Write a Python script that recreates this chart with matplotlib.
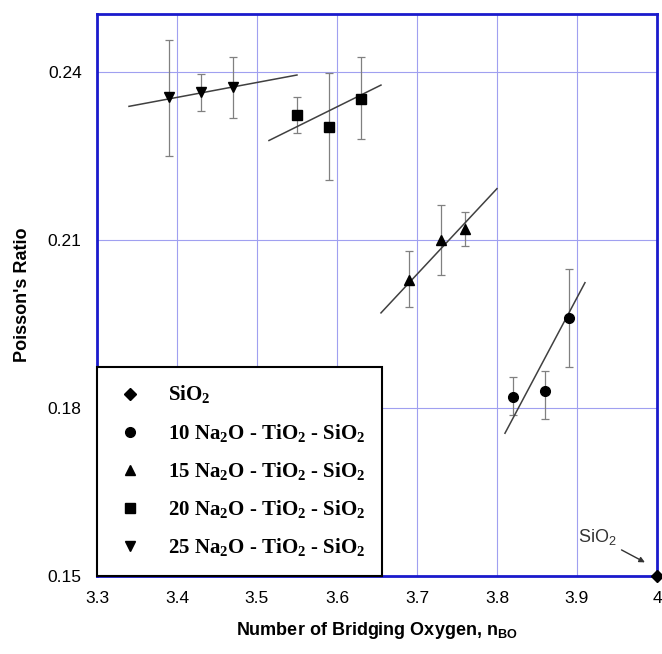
import numpy as np
import matplotlib.pyplot as plt

plt.rcParams['font.family'] = ['Liberation Sans', 'DejaVu Sans']
plt.rcParams['mathtext.fontset'] = 'custom'
plt.rcParams['mathtext.rm'] = 'Liberation Serif'
plt.rcParams['mathtext.bf'] = 'Liberation Serif:bold'
plt.rcParams['mathtext.sf'] = 'Liberation Sans:bold'

# datos
x10 = [3.82, 3.86, 3.89]
y10 = [0.1820, 0.1831, 0.1961]
e10_lo = [0.0033, 0.0051, 0.0088]
e10_hi = [0.0035, 0.0036, 0.0088]
fit10_x = [3.81, 3.91]
fit10_y = [0.1755, 0.2024]

x15 = [3.69, 3.73, 3.76]
y15 = [0.2029, 0.2100, 0.2120]
e15_lo = [0.0048, 0.0062, 0.0030]
e15_hi = [0.0052, 0.0062, 0.0031]
fit15_x = [3.655, 3.80]
fit15_y = [0.1970, 0.2192]

x20 = [3.55, 3.59, 3.63]
y20 = [0.2323, 0.2302, 0.2353]
e20_lo = [0.0032, 0.0095, 0.0073]
e20_hi = [0.0032, 0.0096, 0.0074]
fit20_x = [3.515, 3.655]
fit20_y = [0.2278, 0.2377]

x25 = [3.39, 3.43, 3.47]
y25 = [0.2355, 0.2364, 0.2373]
e25_lo = [0.0104, 0.0034, 0.0055]
e25_hi = [0.0102, 0.0032, 0.0054]
fit25_x = [3.34, 3.55]
fit25_y = [0.2339, 0.2395]

x_sio2 = [4.0]
y_sio2 = [0.15]

fig = plt.figure(figsize=(6.62, 6.54), dpi=100)
ax = fig.add_axes([0.1465, 0.1193, 0.8459, 0.8593])

gris = '#808080'
for xs, ys, lo, hi in [(x10, y10, e10_lo, e10_hi), (x15, y15, e15_lo, e15_hi),
                       (x20, y20, e20_lo, e20_hi), (x25, y25, e25_lo, e25_hi)]:
    ax.errorbar(xs, ys, yerr=[lo, hi], fmt='none', ecolor=gris, elinewidth=0.9,
                capsize=3, capthick=0.9, zorder=2)

for fx, fy in [(fit10_x, fit10_y), (fit15_x, fit15_y), (fit20_x, fit20_y), (fit25_x, fit25_y)]:
    ax.plot(fx, fy, color='#404040', lw=1.1, zorder=3)

sub = r'$_\mathbf{2}$'
ax.plot(x_sio2, y_sio2, 'D', color='k', ms=6, clip_on=False, zorder=5,
        label='SiO' + sub)
ax.plot(x10, y10, 'o', color='k', ms=7, zorder=4,
        label='10 Na' + sub + 'O - TiO' + sub + ' - SiO' + sub)
ax.plot(x15, y15, '^', color='k', ms=7, zorder=4,
        label='15 Na' + sub + 'O - TiO' + sub + ' - SiO' + sub)
ax.plot(x20, y20, 's', color='k', ms=7, zorder=4,
        label='20 Na' + sub + 'O - TiO' + sub + ' - SiO' + sub)
ax.plot(x25, y25, 'v', color='k', ms=7, zorder=4,
        label='25 Na' + sub + 'O - TiO' + sub + ' - SiO' + sub)

ax.annotate(r'SiO$_\mathregular{2}$', xy=(3.988, 0.1522), xytext=(3.925, 0.1552),
            fontsize=13, color='#333333', ha='center', va='bottom',
            arrowprops=dict(arrowstyle='-|>', color='#333333', lw=1, mutation_scale=8))

ax.set_xlim(3.3, 4.0)
ax.set_ylim(0.15, 0.2504)
ax.set_xticks([3.3, 3.4, 3.5, 3.6, 3.7, 3.8, 3.9, 4.0])
ax.set_xticklabels(['3.3', '3.4', '3.5', '3.6', '3.7', '3.8', '3.9', '4'])
ax.set_yticks([0.15, 0.18, 0.21, 0.24])
ax.set_yticklabels(['0.15', '0.18', '0.21', '0.24'])
ax.tick_params(length=0, labelsize=12.5, pad=11)
ax.grid(True, color='#a0a0f0', lw=0.8)
ax.set_axisbelow(True)
for s in ax.spines.values():
    s.set_color('#1a1acc')
    s.set_linewidth(2)

ax.set_xlabel(r'Number of Bridging Oxygen, n$_\mathsf{BO}$', fontsize=13, fontweight='bold', labelpad=10)
ax.set_ylabel("Poisson's Ratio", fontsize=13, fontweight='bold', labelpad=12)

leg = ax.legend(loc='lower left', bbox_to_anchor=(0.0, 0.0), borderaxespad=0.0,
                fancybox=False, edgecolor='k', framealpha=1, labelspacing=0.75,
                handletextpad=1.0, borderpad=0.8, handlelength=1.6,
                prop={'family': 'Liberation Serif', 'weight': 'bold', 'size': 15})
leg.get_frame().set_linewidth(1.5)

plt.savefig('out.png', dpi=100)
